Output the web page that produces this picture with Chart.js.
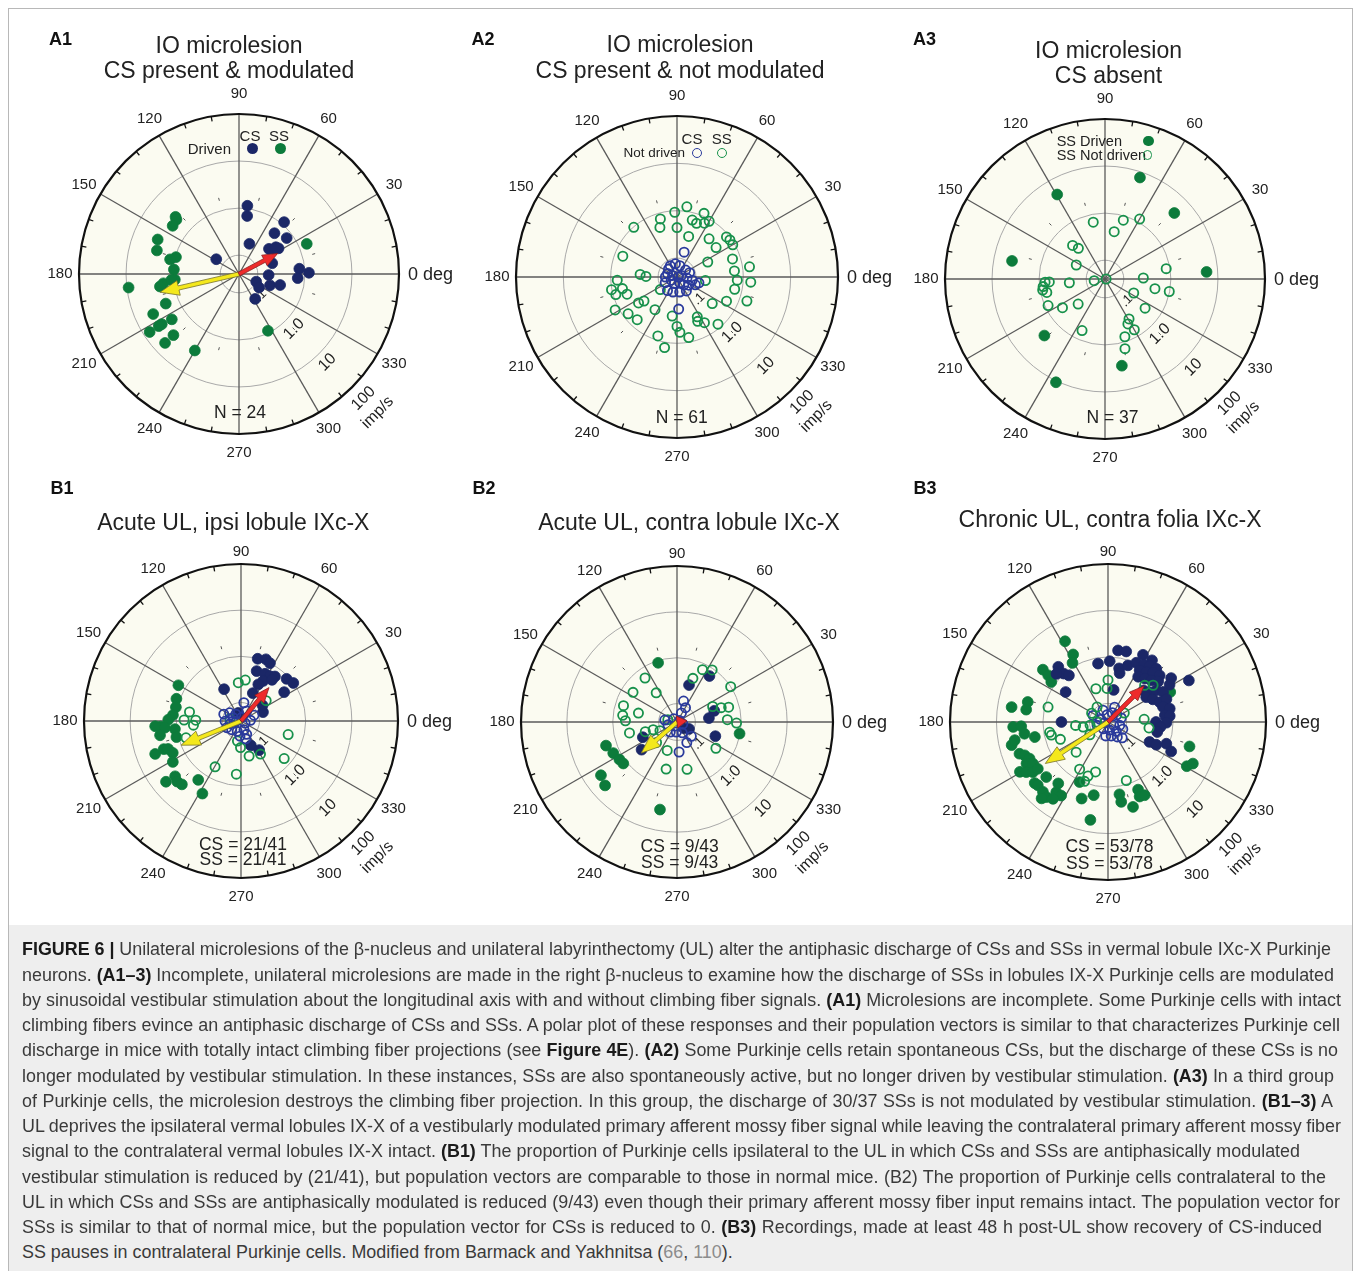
<!DOCTYPE html>
<html><head><meta charset="utf-8">
<script src="https://cdn.jsdelivr.net/npm/chart.js@4.4.1/dist/chart.umd.min.js"></script>
<style>
body{margin:0;background:#fff;width:1357px;height:1271px;position:relative;overflow:hidden;font-family:"Liberation Sans",Arial,sans-serif;color:#222}
.frame{position:absolute;left:8px;top:8px;width:1345px;height:1275px;border:1px solid #b8b8b8;box-sizing:border-box}
.cap{position:absolute;left:9px;top:925px;width:1343px;height:346px;background:#eeeeee}
canvas{position:absolute;z-index:1}
.t{position:absolute;white-space:nowrap;line-height:1;z-index:2;transform:translate(-50%,-50%)}
.r{transform:translate(-100%,-50%)}
.l{transform:translate(0,-50%)}
.pl{font-weight:bold;font-size:18px;color:#111}
.ti{font-size:23px;color:#222}
.mk{position:absolute;border-radius:50%;z-index:2;box-sizing:border-box}
.cl{position:absolute;left:22px;white-space:nowrap;line-height:20px;height:20px;color:#3a3a3a;font-size:17px;z-index:2}
.cl b{color:#1a1a1a}
.g{color:#8c8c8c}
</style></head>
<body>
<div class="frame"></div>
<div class="cap"></div>
<script>
// ---------------- DATA (phase in deg, amplitude in imp/s) ----------------
const A1_cs_phase=[83,82,49,49,37,71,40,35,33,147,5,1,356,358,336,340,345,326,303,18,36];
const A1_cs_amp  =[1.15,0.70,1.15,0.56,0.74,0.19,0.27,0.33,0.40,0.15,0.77,1.22,0.71,0.17,0.10,0.20,0.32,0.13,0.17,0.22,0.37];
const A1_ss_phase=[138,139,144,157,164,165,168,176,185,187,189,187,202,205,214,213,213,213,223,223,240,297,24,185];
const A1_ss_amp  =[2.6,2.3,2.2,3.0,2.6,0.97,1.25,0.97,0.93,1.65,2.0,9.2,1.9,4.1,2.1,3.6,4.3,7.3,3.2,5.6,3.0,0.90,1.5,1.1];
const A1_vec_phase=[193,28];
const A1_vec_amp  =[2.1,0.34];

const A2_csNot_phase=[74,273,121,97,76,39,19,160,161,0,19,354,348,337,345,248,295,311,325,235,255,280,304,206,209,137,180];
const A2_csNot_amp  =[0.14,0.19,0.075,0.076,0.07,0.068,0.076,0.065,0.05,0.042,0.05,0.065,0.085,0.105,0.12,0.056,0.054,0.066,0.08,0.089,0.085,0.084,0.09,0.075,0.055,0.07,0.07];
const A2_ssNot_phase=[82,92,67,106,75,70,60,131,109,90,74,50,39,35,37,30,159,26,18,8,6,176,179,353,357,356,183,348,191,192,217,196,199,214,216,323,334,341,236,208,217,227,263,297,301,311,270,273,281,252,260,63,295];
const A2_ssNot_amp  =[1.25,0.93,1.15,0.75,0.70,0.64,0.91,0.98,0.51,0.44,0.31,0.45,0.88,0.92,0.43,0.91,0.67,0.21,0.68,1.4,0.66,0.24,0.18,0.16,0.75,1.45,0.73,0.70,1.02,0.60,0.11,0.88,0.52,0.38,0.29,0.34,0.58,1.45,0.27,1.2,0.78,0.68,0.27,0.35,0.53,0.83,0.44,0.59,0.80,0.81,1.3,0.75,0.43];

const A3_ss_phase=[71,119.5,43.6,169,4,223,281,244.6];
const A3_ss_amp  =[7.6,4.6,4.3,4.1,5.8,2.3,3.0,10.7];
const A3_ssNot_phase=[101.7,72.7,60,79,134,131,154,9.6,183,183,187,190,193,186,189,0,1.5,349,349,334,205,214,223,324,301,297,300,246,289,286];
const A3_ssNot_amp  =[0.68,0.81,1.18,0.42,0.39,0.29,0.19,0.83,0.75,0.61,0.84,0.88,0.74,0.23,0.068,0.042,0.26,0.48,0.98,0.19,0.86,0.49,0.24,0.45,0.39,0.47,0.70,0.63,0.79,1.38];

const B1_cs_phase=[75,68,63.4,72.6,63,57,52.7,61,64.7,42.8,36,33.8,67,118,109,22,292,302,53,36];
const B1_cs_amp  =[0.99,1.1,1.0,0.54,0.56,0.57,0.65,0.39,0.30,0.88,1.0,0.53,0.18,0.24,0.061,0.13,0.148,0.22,0.52,0.15];
const B1_csNot_phase=[81,158.5,144,127,60,24,181,194,184,333,205,223,250,289,293,266,285,4,157,78];
const B1_csNot_amp  =[0.10,0.10,0.08,0.061,0.071,0.081,0.088,0.07,0.051,0.05,0.087,0.075,0.069,0.063,0.082,0.085,0.10,0.064,0.061,0.048];
const B1_ss_phase=[150.3,161,168,175,179,184,183.5,185,187,190,194,201,200,201,205,211,219,220,223.5,227,234,242];
const B1_ss_amp  =[1.45,1.2,1.1,1.2,1.5,2.2,2.9,1.8,1.1,2.4,1.1,3.9,2.4,1.95,1.7,2.1,4.9,2.9,3.2,3.0,1.5,2.4];
const B1_ssNot_phase=[94,84,170,179,179,185,197,344,39,283,240.5,265,319,300.5,269,260,168];
const B1_ssNot_amp  =[0.27,0.31,0.54,0.68,0.38,0.43,0.70,0.46,0.2,0.24,0.55,0.57,0.69,0.27,0.15,0.11,0.07];
const B1_vec_phase=[202,50];
const B1_vec_amp  =[1.0,0.35];

const B2_ss_phase=[107.7,349.5,198.4,206,213,217.7,215,221.4,259];
const B2_ss_amp  =[0.9,0.97,1.7,1.4,1.25,1.2,4.2,4.9,3.5];
const B2_cs_phase=[54.8,72,16.7,7,204,218,318,330,339.7];
const B2_cs_amp  =[0.67,0.28,0.28,0.20,0.26,0.38,0.063,0.08,0.31];
const B2_csNot_phase=[72.6,59.4,64,135,197,236,266,296,315,295.5,274,342,171,242,30];
const B2_csNot_amp  =[0.12,0.092,0.066,0.05,0.064,0.073,0.066,0.073,0.11,0.125,0.18,0.054,0.074,0.05,0.046];
const B2_ssNot_phase=[64,56,70,33.3,126,146,125.5,163,167,173,178.6,193,197,198,207,166,23.5,18,16,2.6,359,326,251,225,282,257];
const B2_ssNot_amp  =[0.74,0.93,0.41,1.0,0.61,0.57,0.24,0.66,0.29,0.62,0.53,0.46,0.21,0.14,0.104,0.064,0.28,0.41,0.59,0.5,0.79,0.42,0.18,0.17,0.45,0.45];
const B2_vec_phase=[221,7];
const B2_vec_amp  =[0.43,0.066];

const B3_cs_phase=[82,75.5,62.5,54.5,99.7,88.4,132,132.5,130,144.7,80,78.3,70.6,64.5,58,53.3,47.8,58.5,52.5,47.6,42,56.3,49.7,43.9,39,34.8,31.2,27.2,41.6,35.7,33.3,28.6,33,26.8,21,21.3,15.3,12.2,6.7,5.6,0,359.3,354.5,348.5,180,334.4,334.8,339.6,335,76.6,137];
const B3_cs_amp  =[1.43,1.47,1.7,1.7,0.75,0.81,1.58,1.03,0.81,0.52,0.2,0.6,0.78,1.03,1.13,1.26,1.4,0.8,0.9,1.09,1.25,0.59,0.67,0.78,0.98,1.8,1.41,3.6,0.42,0.5,0.70,0.89,0.38,0.48,0.62,0.89,0.67,0.91,0.68,0.86,0.43,0.72,0.54,0.48,0.40,0.39,0.56,0.87,1.26,0.48,1.31];
const B3_ss_phase=[118,117.3,121,141.2,142,144.8,171.2,166,171.4,183,182.8,188,191.6,193.5,191,199.7,201.8,205,207,209,209.5,211.5,213.7,213.7,221.7,219.8,222,227,230.6,233.6,237.5,231,244.7,251,259.8,279,279.4,286.4,294,293,296.6,343.3,330.7,333.9,25.7,229,234.4,259];
const B3_ss_amp  =[3.7,1.72,1.21,2.5,1.71,1.24,5.0,2.4,2.4,4.4,2.95,2.6,1.61,5.4,4.4,4.2,3.4,2.9,3.7,2.8,6.0,4.6,3.5,2.6,2.4,4.5,4.3,4.5,4.9,3.0,3.0,2.0,1.07,2.2,5.5,1.5,2.2,3.2,1.56,2.2,2.3,2.7,3.5,4.3,1.22,6.0,4.3,1.6];
const B3_csNot_phase=[113,98,65,39,17,162,192,330,344,236,281.5,312,334,260.7,283,302,312,197,66,156];
const B3_csNot_amp  =[0.075,0.057,0.066,0.07,0.079,0.06,0.047,0.055,0.073,0.06,0.06,0.074,0.09,0.08,0.081,0.095,0.114,0.07,0.089,0.089];
const B3_ssNot_phase=[110,90,91.7,126,151.7,186,166,193,200,190,223.4,239,249.7,248.5,256,287.4,4.3,351.7,45,39.2,29,215,191.6,190,180];
const B3_ssNot_amp  =[0.23,0.32,0.21,0.1,0.1,0.2,0.85,0.71,0.49,0.75,0.35,0.61,0.69,0.94,0.51,0.83,0.24,0.31,0.52,0.71,0.1,0.12,0.14,0.098,0.07];
const B3_vec_phase=[213.5,45];
const B3_vec_amp  =[1.65,0.5];

// axis ticks
const ANGLE_TICKS =[0,30,60,90,120,150,180,210,240,270,300,330];
const ANGLE_LABELS=['0 deg','30','60','90','120','150','180','210','240','270','300','330'];
const RING_TICKS  =[0.1,1,10,100];
const RING_LABELS =['.1','1.0','10','100'];
const RADIAL_UNIT ='imp/s';
const MINOR_MARK_AMP=1.75;
const LOG_MIN=-1.4, LOG_MAX=2;

// ---------------- STYLE / LAYOUT ----------------
const FONT='"Liberation Sans", Arial, sans-serif';
const STY={
  csDriven:{bg:'#1b2767',bc:'#1b2767',radius:5.4,bw:0.8},
  ssDriven:{bg:'#0c7b3b',bc:'#0c7b3b',radius:5.4,bw:0.8},
  csNot:{bg:'rgba(0,0,0,0)',bc:'#2a3a9c',radius:4.6,bw:1.8},
  ssNot:{bg:'rgba(0,0,0,0)',bc:'#17914b',radius:4.6,bw:1.8}
};
const VSTY=[{fill:'#f4e81c',stroke:'#77722a',headL:19,headW:15,shaft:4.2},{fill:'#ee2b2b',stroke:'#8a1f1f',headL:15,headW:12,shaft:4}];

const PANELS=[
 {cx:239.3,cy:274,R:160,topGap:20,series:[['csDriven',A1_cs_phase,A1_cs_amp],['ssDriven',A1_ss_phase,A1_ss_amp]],vec:[A1_vec_phase,A1_vec_amp]},
 {cx:677.3,cy:277.3,R:161,topGap:20,series:[['csNot',A2_csNot_phase,A2_csNot_amp],['ssNot',A2_ssNot_phase,A2_ssNot_amp]],vec:null},
 {cx:1105,cy:279.3,R:160,topGap:20,series:[['ssNot',A3_ssNot_phase,A3_ssNot_amp],['ssDriven',A3_ss_phase,A3_ss_amp]],vec:null},
 {cx:241,cy:720.7,R:157,topGap:12,series:[['csNot',B1_csNot_phase,B1_csNot_amp],['ssNot',B1_ssNot_phase,B1_ssNot_amp],['csDriven',B1_cs_phase,B1_cs_amp],['ssDriven',B1_ss_phase,B1_ss_amp]],vec:[B1_vec_phase,B1_vec_amp]},
 {cx:677.3,cy:722.3,R:156,topGap:12,series:[['csNot',B2_csNot_phase,B2_csNot_amp],['ssNot',B2_ssNot_phase,B2_ssNot_amp],['csDriven',B2_cs_phase,B2_cs_amp],['ssDriven',B2_ss_phase,B2_ss_amp]],vec:[B2_vec_phase,B2_vec_amp]},
 {cx:1108.3,cy:721.7,R:158,topGap:12,series:[['ssNot',B3_ssNot_phase,B3_ssNot_amp],['csNot',B3_csNot_phase,B3_csNot_amp],['csDriven',B3_cs_phase,B3_cs_amp],['ssDriven',B3_ss_phase,B3_ss_amp]],vec:[B3_vec_phase,B3_vec_amp]}
];

function toXY(ph,amp){const r=Math.max(0,Math.log10(amp)-LOG_MIN);const a=ph*Math.PI/180;return {x:r*Math.cos(a),y:r*Math.sin(a)};}

function drawArrow(ctx,x0,y0,x1,y1,s){
  const dx=x1-x0,dy=y1-y0,L=Math.hypot(dx,dy);if(L<0.5)return;
  const ux=dx/L,uy=dy/L,nx=-uy,ny=ux;const hl=Math.min(s.headL,L);
  const bx=x1-ux*hl,by=y1-uy*hl,sw=s.shaft/2,hw=s.headW/2;
  ctx.beginPath();
  if(L>hl+0.5){
    ctx.moveTo(x0+nx*sw,y0+ny*sw);ctx.lineTo(bx+nx*sw,by+ny*sw);ctx.lineTo(bx+nx*hw,by+ny*hw);ctx.lineTo(x1,y1);
    ctx.lineTo(bx-nx*hw,by-ny*hw);ctx.lineTo(bx-nx*sw,by-ny*sw);ctx.lineTo(x0-nx*sw,y0-ny*sw);
  } else {ctx.moveTo(bx+nx*hw,by+ny*hw);ctx.lineTo(x1,y1);ctx.lineTo(bx-nx*hw,by-ny*hw);}
  ctx.closePath();ctx.fillStyle=s.fill;ctx.fill();ctx.lineWidth=0.8;ctx.strokeStyle=s.stroke;ctx.stroke();
}

const polarGrid={
  id:'polarGrid',
  beforeDatasetsDraw(chart){
    const ctx=chart.ctx,xs=chart.scales.x,ys=chart.scales.y,cfg=chart.options.plugins.polarGrid;
    const cx=xs.getPixelForValue(0),cy=ys.getPixelForValue(0);
    const rad=v=>xs.getPixelForValue(Math.max(0,Math.log10(v)-LOG_MIN))-cx;
    const R=rad(RING_TICKS[RING_TICKS.length-1]);
    const P=(r,deg)=>[cx+r*Math.cos(deg*Math.PI/180),cy-r*Math.sin(deg*Math.PI/180)];
    ctx.save();
    ctx.beginPath();ctx.arc(cx,cy,R,0,Math.PI*2);ctx.fillStyle='#fbfbf1';ctx.fill();
    ctx.strokeStyle='#a9a9a9';ctx.lineWidth=1;
    RING_TICKS.slice(0,-1).forEach(v=>{ctx.beginPath();ctx.arc(cx,cy,rad(v),0,Math.PI*2);ctx.stroke();});
    ctx.strokeStyle='#5a5a5a';ctx.lineWidth=1.3;
    ANGLE_TICKS.forEach(a=>{const p=P(R,a);ctx.beginPath();ctx.moveTo(cx,cy);ctx.lineTo(p[0],p[1]);ctx.stroke();});
    ctx.strokeStyle='#555';ctx.lineWidth=1;const rm=rad(MINOR_MARK_AMP);
    for(let a=15;a<360;a+=30){const p1=P(rm-1.5,a),p2=P(rm+1.5,a);ctx.beginPath();ctx.moveTo(p1[0],p1[1]);ctx.lineTo(p2[0],p2[1]);ctx.stroke();}
    ctx.strokeStyle='#111';ctx.lineWidth=2.2;ctx.beginPath();ctx.arc(cx,cy,R,0,Math.PI*2);ctx.stroke();
    ctx.lineWidth=1.3;
    for(let a=0;a<360;a+=10){if(a%30===0)continue;const p1=P(R,a),p2=P(R-5,a);ctx.beginPath();ctx.moveTo(p1[0],p1[1]);ctx.lineTo(p2[0],p2[1]);ctx.stroke();}
    ctx.fillStyle='#222';ctx.textBaseline='middle';
    ANGLE_TICKS.forEach((a,i)=>{
      if(a===0){ctx.font='18px '+FONT;ctx.textAlign='left';ctx.fillText(ANGLE_LABELS[i],cx+R+9,cy+1);return;}
      ctx.font='15px '+FONT;ctx.textAlign='center';
      const p=P(R+(a===90?cfg.topGap:19),a);ctx.fillText(ANGLE_LABELS[i],p[0],p[1]);
    });
    const rot=(txt,r,fs)=>{const p=P(r,315);ctx.save();ctx.translate(p[0],p[1]);ctx.rotate(-Math.PI/4);ctx.font=fs+'px '+FONT;ctx.textAlign='center';ctx.fillText(txt,0,0);ctx.restore();};
    RING_TICKS.forEach((v,i)=>{
      if(i===RING_TICKS.length-1){rot(RING_LABELS[i],R+16,16);rot(RADIAL_UNIT,R+36,16);}
      else rot(RING_LABELS[i],rad(v)+12,i===0?13:16);
    });
    ctx.restore();
  },
  afterDatasetsDraw(chart){
    const cfg=chart.options.plugins.polarGrid;if(!cfg.vec)return;
    const ctx=chart.ctx,xs=chart.scales.x,ys=chart.scales.y;
    const x0=xs.getPixelForValue(0),y0=ys.getPixelForValue(0);
    ctx.save();
    cfg.vec[0].forEach((ph,i)=>{const q=toXY(ph,cfg.vec[1][i]);drawArrow(ctx,x0,y0,xs.getPixelForValue(q.x),ys.getPixelForValue(q.y),VSTY[i]);});
    ctx.restore();
  }
};

const PAD=80;
PANELS.forEach(p=>{
  const W=Math.round(2*p.R+2*PAD);
  const c=document.createElement('canvas');c.width=W;c.height=W;
  c.style.left=(p.cx-W/2)+'px';c.style.top=(p.cy-W/2)+'px';c.style.width=W+'px';c.style.height=W+'px';
  document.body.appendChild(c);
  const span=LOG_MAX-LOG_MIN;const pad=(W-2*p.R)/2;
  new Chart(c,{
    type:'scatter',
    data:{datasets:p.series.map(([k,ph,am])=>{const s=STY[k];return {data:ph.map((v,i)=>toXY(v,am[i])),clip:false,
      backgroundColor:s.bg,borderColor:s.bc,borderWidth:s.bw,radius:s.radius,hoverRadius:s.radius,hoverBorderWidth:s.bw,
      pointRadius:s.radius,pointBorderWidth:s.bw,pointBackgroundColor:s.bg,pointBorderColor:s.bc,pointHoverRadius:s.radius};})},
    options:{responsive:false,animation:false,events:[],devicePixelRatio:1,
      layout:{padding:{left:pad,right:pad,top:pad,bottom:pad}},
      plugins:{legend:{display:false},tooltip:{enabled:false},polarGrid:{topGap:p.topGap,vec:p.vec}},
      scales:{x:{type:'linear',min:-span,max:span,display:false},y:{type:'linear',min:-span,max:span,display:false}}},
    plugins:[polarGrid]
  });
});

// ---------------- TEXT ----------------
function T(txt,x,y,cls,style){const d=document.createElement('div');d.className='t '+(cls||'');d.innerHTML=txt;d.style.left=x+'px';d.style.top=y+'px';if(style)d.style.cssText+=style;document.body.appendChild(d);return d;}
function M(x,y,r,fill,stroke,bw){const d=document.createElement('div');d.className='mk';d.style.left=(x-r)+'px';d.style.top=(y-r)+'px';d.style.width=2*r+'px';d.style.height=2*r+'px';d.style.background=fill;d.style.border=bw+'px solid '+stroke;document.body.appendChild(d);}
T('A1',60.5,39,'pl');T('A2',483,39,'pl');T('A3',924.5,39,'pl');
T('B1',62,488,'pl');T('B2',484,488,'pl');T('B3',925,488,'pl');
T('IO microlesion',229,45,'ti');T('CS present &amp; modulated',229,70,'ti');
T('IO microlesion',680,44,'ti');T('CS present &amp; not modulated',680,70,'ti');
T('IO microlesion',1108.5,49.5,'ti');T('CS absent',1108.5,75,'ti');
T('Acute UL, ipsi lobule IXc-X',233.3,521.7,'ti');
T('Acute UL, contra lobule IXc-X',689,521.7,'ti');
T('Chronic UL, contra folia IXc-X',1110,519.3,'ti');
T('CS',250,135,'','font-size:15px');T('SS',279,135,'','font-size:15px');T('Driven',231,148,'r','font-size:15px');
M(252.7,148.3,5.5,'#1b2767','#1b2767',0);M(280,148.3,5.5,'#0c7b3b','#0c7b3b',0);
T('CS',692,138.3,'','font-size:15px');T('SS',721.7,138.3,'','font-size:15px');T('Not driven',685,153,'r','font-size:13.5px');
M(696.7,153,5,'transparent','#2a3a9c',1.8);M(721.7,153,5,'transparent','#17914b',1.8);
T('SS Driven',1056.7,141,'l','font-size:14.5px');T('SS Not driven',1056.7,155,'l','font-size:14.5px');
M(1148.3,141,5.3,'#0c7b3b','#0c7b3b',0);M(1147.3,155,4.8,'transparent','#17914b',1.7);
T('N = 24',240,412.7,'','font-size:17.5px');T('N = 61',681.7,418.3,'','font-size:17.5px');T('N = 37',1112.5,418.3,'','font-size:17.5px');
T('CS = 21/41',243,845,'','font-size:17.5px');T('SS = 21/41',243,860,'','font-size:17.5px');
T('CS = 9/43',679.7,846.7,'','font-size:17.5px');T('SS = 9/43',679.7,863.3,'','font-size:17.5px');
T('CS = 53/78',1109.5,846.7,'','font-size:17.5px');T('SS = 53/78',1109.5,864,'','font-size:17.5px');

const CAP=[
'<b>FIGURE 6 |</b> Unilateral microlesions of the β-nucleus and unilateral labyrinthectomy (UL) alter the antiphasic discharge of CSs and SSs in vermal lobule IXc-X Purkinje',
'neurons. <b>(A1–3)</b> Incomplete, unilateral microlesions are made in the right β-nucleus to examine how the discharge of SSs in lobules IX-X Purkinje cells are modulated',
'by sinusoidal vestibular stimulation about the longitudinal axis with and without climbing fiber signals. <b>(A1)</b> Microlesions are incomplete. Some Purkinje cells with intact',
'climbing fibers evince an antiphasic discharge of CSs and SSs. A polar plot of these responses and their population vectors is similar to that characterizes Purkinje cell',
'discharge in mice with totally intact climbing fiber projections (see <b>Figure 4E</b>). <b>(A2)</b> Some Purkinje cells retain spontaneous CSs, but the discharge of these CSs is no',
'longer modulated by vestibular stimulation. In these instances, SSs are also spontaneously active, but no longer driven by vestibular stimulation. <b>(A3)</b> In a third group',
'of Purkinje cells, the microlesion destroys the climbing fiber projection. In this group, the discharge of 30/37 SSs is not modulated by vestibular stimulation. <b>(B1–3)</b> A',
'UL deprives the ipsilateral vermal lobules IX-X of a vestibularly modulated primary afferent mossy fiber signal while leaving the contralateral primary afferent mossy fiber',
'signal to the contralateral vermal lobules IX-X intact. <b>(B1)</b> The proportion of Purkinje cells ipsilateral to the UL in which CSs and SSs are antiphasically modulated',
'vestibular stimulation is reduced by (21/41), but population vectors are comparable to those in normal mice. (B2) The proportion of Purkinje cells contralateral to the',
'UL in which CSs and SSs are antiphasically modulated is reduced (9/43) even though their primary afferent mossy fiber input remains intact. The population vector for',
'SSs is similar to that of normal mice, but the population vector for CSs is reduced to 0. <b>(B3)</b> Recordings, made at least 48 h post-UL show recovery of CS-induced',
'SS pauses in contralateral Purkinje cells. Modified from Barmack and Yakhnitsa (<span class="g">66</span>, <span class="g">110</span>).'
];
const CAP_RIGHT=[1331,1334,1341,1340,1338,1334,1333,1341,1300,1326,1340,1322,733];
const CAP_Y=[949,974.5,1000,1025,1050,1075.5,1101,1126,1151,1176.5,1202,1227,1252];
const els=CAP.map((h,i)=>{const d=document.createElement('div');d.className='cl';d.innerHTML=h;d.style.top=(CAP_Y[i]-10)+'px';document.body.appendChild(d);return d;});
const wLast=els[12].getBoundingClientRect().width;
const fs=17*(CAP_RIGHT[12]-22)/wLast;
els.forEach(e=>e.style.fontSize=fs+'px');
els.forEach((e,i)=>{if(i===12)return;const w=e.getBoundingClientRect().width;const n=(e.textContent.match(/ /g)||[]).length;e.style.wordSpacing=((CAP_RIGHT[i]-22-w)/n)+'px';});
</script>
</body></html>
